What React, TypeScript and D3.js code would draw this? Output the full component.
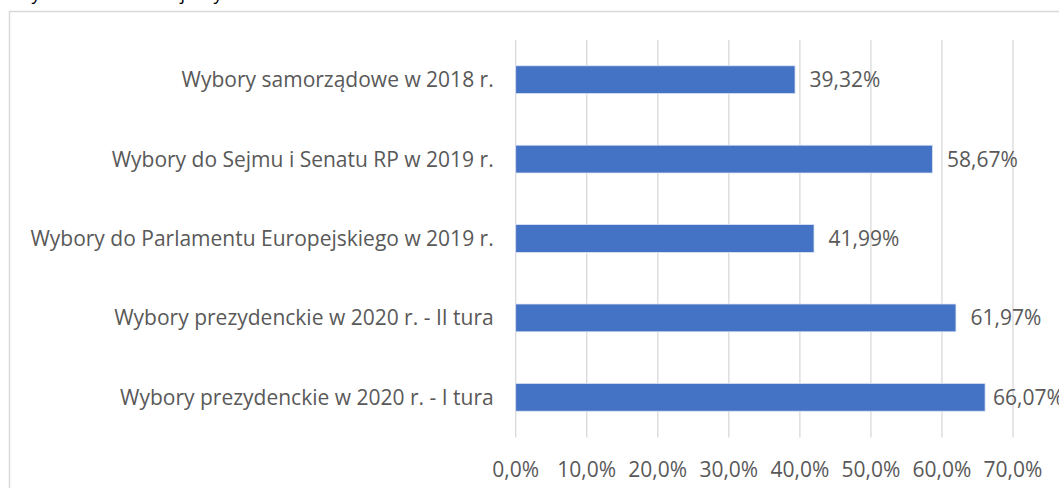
import React from "react";
import * as d3 from "d3";

const width = 1059;
const height = 488;
const margin = { top: 40, right: 46, bottom: 51, left: 515.7 };

const categories = [
  "Wybory samorządowe w 2018 r.",
  "Wybory do Sejmu i Senatu RP w 2019 r.",
  "Wybory do Parlamentu Europejskiego w 2019 r.",
  "Wybory prezydenckie w 2020 r. - II tura",
  "Wybory prezydenckie w 2020 r. - I tura",
];
const values = [39.32, 58.67, 41.99, 61.97, 66.07];
const ticks = [0, 10, 20, 30, 40, 50, 60, 70];
const title = "Wykres 1. Frekwencja wyborcza w latach 2018-2020";

const font = "'Open Sans', sans-serif";
const fontSize = 21;
const textColor = "#595959";
// right edge of the (cropped) chart area, labels are pushed inside it
const chartRight = 1063;
const labelWidth = 70;

// comma as decimal separator, like the original
const pct = (v: number, digits: number) => v.toFixed(digits).replace(".", ",") + "%";

export default function App() {
  const x = d3.scaleLinear().domain([0, 70]).range([margin.left, width - margin.right]);
  const y = d3
    .scaleBand()
    .domain(categories)
    .range([margin.top, height - margin.bottom])
    .paddingInner(0.65)
    .paddingOuter(0.325);

  const gridTop = margin.top;
  const gridBottom = height - margin.bottom + 0.5;

  return (
    <div style={{ position: "fixed", left: 0, top: 0, background: "#fff" }}>
      <svg width={width} height={height} style={{ display: "block" }}>
        <rect width={width} height={height} fill="#fff" />
        {/* title cut off by the crop */}
        <text x={15} y={0} fontFamily={font} fontSize={18} fill="#000">
          {title}
        </text>
        {/* chart area frame */}
        <rect x={9.5} y={11.5} width={width + 20} height={height + 20} fill="none" stroke="#d9d9d9" strokeWidth={1.5} />

        {/* vertical gridlines */}
        {ticks.map((t) => (
          <line key={t} x1={x(t)} x2={x(t)} y1={gridTop} y2={gridBottom} stroke="#d9d9d9" strokeWidth={1.3} />
        ))}

        {/* bars */}
        {categories.map((c, i) => (
          <rect
            key={c}
            x={x(0)}
            y={y(c)!}
            width={x(values[i]) - x(0)}
            height={y.bandwidth()}
            fill="#4472c4"
            stroke="#dbe3f3"
            strokeWidth={0.8}
          />
        ))}

        {/* value labels */}
        {categories.map((c, i) => (
          <text
            key={c}
            x={Math.min(x(values[i]) + 14.5, chartRight - labelWidth)}
            y={y(c)! + y.bandwidth() / 2}
            dy="0.36em"
            fontFamily={font}
            fontSize={fontSize}
            fill={textColor}
          >
            {pct(values[i], 2)}
          </text>
        ))}

        {/* category labels */}
        {categories.map((c) => (
          <text
            key={c}
            x={x(0) - 22}
            y={y(c)! + y.bandwidth() / 2}
            dy="0.36em"
            textAnchor="end"
            fontFamily={font}
            fontSize={fontSize}
            fill={textColor}
          >
            {c}
          </text>
        ))}

        {/* x tick labels */}
        {ticks.map((t) => (
          <text
            key={t}
            x={x(t)}
            y={469}
            dy="0.36em"
            textAnchor="middle"
            fontFamily={font}
            fontSize={fontSize}
            fill={textColor}
          >
            {pct(t, 1)}
          </text>
        ))}
      </svg>
    </div>
  );
}
